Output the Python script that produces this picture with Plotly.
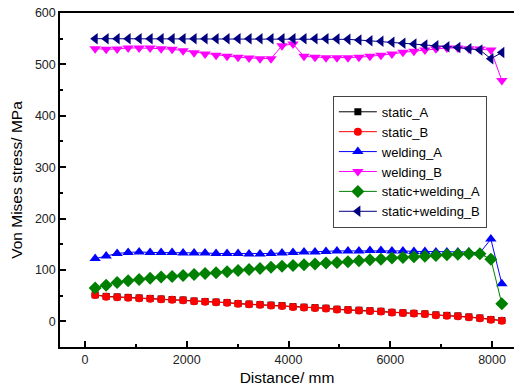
import plotly.graph_objects as go

distance = [200, 416, 632, 848, 1064, 1280, 1496, 1712, 1928, 2144, 2360, 2576, 2792, 3008,
            3224, 3440, 3656, 3872, 4088, 4304, 4520, 4736, 4952, 5168, 5384, 5600, 5816,
            6032, 6248, 6464, 6680, 6896, 7112, 7328, 7544, 7760, 7976, 8192]

static_A = [51.5, 48.5, 47.5, 46.5, 45.5, 44.5, 43.5, 42.5, 41.5, 39.5, 38.5, 37.5, 36.5, 34.5,
            33.5, 32.5, 31.5, 30.5, 28.5, 27.5, 26.5, 25.5, 23.5, 22.5, 21.5, 20.5, 19.5, 17.5,
            16.5, 15.5, 14.5, 12.5, 11.5, 10.5, 8.5, 6.5, 3.5, 1.5]
static_B = [51, 48, 47, 46, 45, 44, 43, 42, 41, 39, 38, 37, 36, 34,
            33, 32, 31, 30, 28, 27, 26, 25, 23, 22, 21, 20, 19, 17,
            16, 15, 14, 12, 11, 10, 8, 6, 3, 1]
welding_A = [122, 127, 132, 134, 135, 134, 134, 134, 133, 133, 133, 132, 132, 132,
             131, 131, 132, 133, 134, 135, 135, 136, 137, 137, 137, 138, 138, 137,
             137, 136, 136, 135, 135, 135, 135, 133, 160, 73]
welding_B = [530.6, 529.3, 530, 531.9, 531.9, 531.9, 530.6, 529.3, 526.7, 522.8, 520.2, 517.6,
             515.7, 513.8, 512.5, 511.2, 511.2, 536.4, 539.6, 515.7, 513.8, 513.1, 513.1, 513.1,
             513.8, 515.7, 517.6, 520.2, 523.5, 525.4, 528, 530.6, 531.9, 531.9, 530.6, 530,
             528, 468.5]
static_welding_A = [65, 70, 75.7, 79, 81.5, 84, 86, 87.4, 89.3, 91.3, 93.2, 94.5, 96.4, 99,
                    101, 103, 105, 107, 108.7, 110, 111.3, 113.3, 114.6, 115.9, 117.8, 119.7,
                    121, 123, 124.3, 125.6, 126.8, 128, 129.4, 130.7, 131.4, 131.4, 121, 34]
static_welding_B = [550, 550, 550, 550, 550, 550, 550, 550, 550, 550, 550, 550, 550, 550,
                    550, 550, 550, 550, 550, 550, 550, 550, 549.4, 548.7, 547.4, 546, 545,
                    543, 541, 539.6, 537.7, 536.4, 534.5, 533, 530.6, 528, 511, 523]

series = [
    ("static_A", static_A, "#000000", "square", 7),
    ("static_B", static_B, "#ff0000", "circle", 8),
    ("welding_A", welding_A, "#0000ff", "triangle-up", 10),
    ("welding_B", welding_B, "#ff00ff", "triangle-down", 10),
    ("static+welding_A", static_welding_A, "#008000", "diamond", 10),
    ("static+welding_B", static_welding_B, "#000080", "triangle-left", 10),
]

fig = go.Figure()
for name, vals, color, sym, size in series:
    fig.add_trace(go.Scatter(
        x=distance, y=vals, name=name, mode="lines+markers",
        line=dict(color=color, width=1),
        marker=dict(symbol=sym, size=size, color=color, line=dict(width=0)),
    ))

axis_font = dict(family="Liberation Sans, Arial, sans-serif", size=12.5, color="#222222")
title_font = dict(family="Liberation Sans, Arial, sans-serif", size=15.5, color="#000000")

fig.update_layout(
    width=514, height=389,
    margin=dict(l=60, r=0, t=13, b=42),
    paper_bgcolor="white", plot_bgcolor="white",
    showlegend=True,
    legend=dict(
        x=0.601, y=0.752, xanchor="left", yanchor="top",
        bgcolor="white", bordercolor="#444444", borderwidth=1,
        font=dict(family="Liberation Sans, Arial, sans-serif", size=13, color="#000000"),
        tracegroupgap=0, itemwidth=38,
    ),
    xaxis=dict(
        range=[-491, 8431], showgrid=False, zeroline=False,
        showline=True, linecolor="black", linewidth=1.5, mirror=True,
        ticks="inside", ticklen=6, tickcolor="black", tickwidth=1.5,
        tickmode="array", tickvals=[0, 2000, 4000, 6000, 8000],
        minor=dict(ticks="inside", ticklen=3, tickcolor="black", dtick=1000, tick0=0, showgrid=False),
        tickfont=axis_font,
        title=dict(text="Distance/ mm", font=title_font, standoff=6),
    ),
    yaxis=dict(
        range=[-50, 600], showgrid=False, zeroline=False,
        showline=True, linecolor="black", linewidth=1.5, mirror=False,
        ticks="inside", ticklen=6, tickcolor="black", tickwidth=1.5,
        tickmode="array", tickvals=[0, 100, 200, 300, 400, 500, 600],
        minor=dict(ticks="inside", ticklen=3, tickcolor="black", dtick=50, tick0=0, showgrid=False),
        tickfont=axis_font,
        title=dict(text="Von Mises stress/ MPa", font=title_font, standoff=8),
    ),
)

fig.write_html("out.html", config={"displayModeBar": False},
               post_script="document.body.style.margin='0';document.body.style.overflow='hidden';")
